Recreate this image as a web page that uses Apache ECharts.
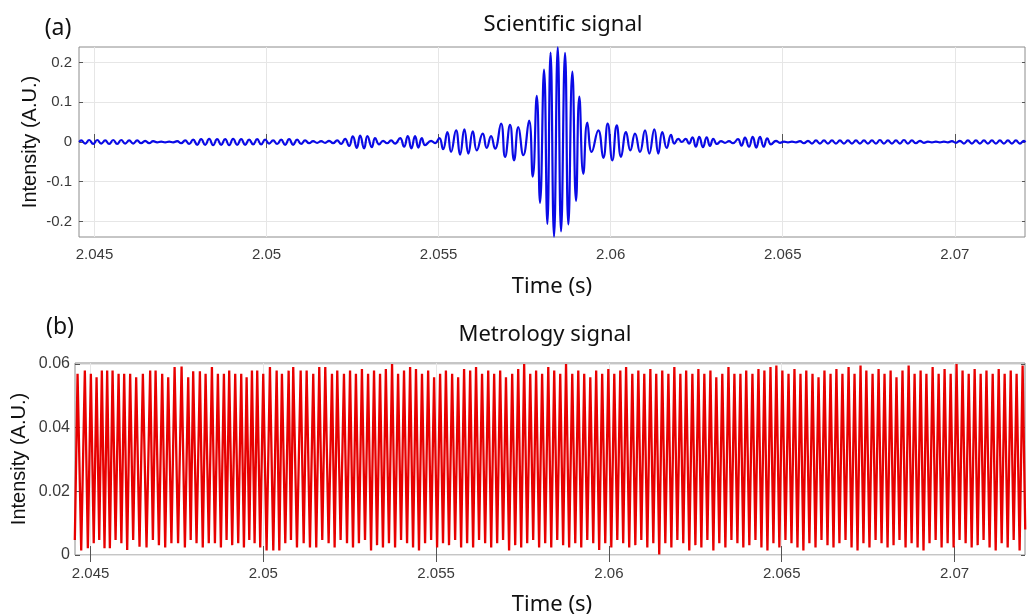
<!DOCTYPE html>
<html><head><meta charset="utf-8">
<script src="https://cdn.jsdelivr.net/npm/echarts@6/dist/echarts.min.js"></script>
<style>html,body{margin:0;padding:0;background:#fff}#c{width:1027px;height:615px}</style>
</head><body><div id="c"></div>
<script>
// ---------- data ----------
const xTicks = [2.045, 2.05, 2.055, 2.06, 2.065, 2.07];
const sciYTicks = [-0.2, -0.1, 0, 0.1, 0.2];
const metroYTicks = [0, 0.02, 0.04, 0.06];

// Scientific signal: times (s) of the local extremes and their values (A.U.)
const sciTime = [
2.044555,2.044614,2.044730,2.044846,2.044963,2.045079,2.045195,2.045311,2.045427,2.045544,2.045660,2.045776,2.045892,2.046008,2.046125,2.046241,2.046357,2.046473,2.046589,2.046706,2.046822,
2.046938,2.047054,2.047170,2.047287,2.047403,2.047519,
2.047635,2.047751,2.047867,2.047984,2.048100,2.048216,2.048332,2.048448,2.048565,2.048681,2.048797,2.048913,2.049029,2.049146,2.049262,2.049378,2.049494,2.049610,2.049727,2.049843,2.049959,2.050075,
2.050191,2.050308,2.050424,2.050540,2.050656,2.050772,2.050889,2.051005,2.051121,2.051237,
2.051353,2.051470,2.051586,2.051702,2.051818,2.051934,2.052051,2.052167,
2.052283,2.052399,2.052507,2.052623,2.052719,2.052835,2.052931,2.053059,2.053154,2.053271,
2.053387,2.053503,2.053619,2.053736,
2.053881,2.053997,2.054104,2.054209,2.054316,2.054412,2.054511,2.054607,
2.054781,2.054897,
2.055022,2.055130,2.055255,2.055362,2.055507,2.055624,2.055749,2.055865,2.055993,2.056109,
2.056283,2.056399,2.056524,2.056640,2.056815,2.056931,2.057076,2.057192,2.057317,2.057462,
2.057628,2.057736,2.057852,2.057948,2.058064,2.058160,2.058253,2.058354,2.058462,2.058558,
2.058674,2.058770,2.058886,2.058993,2.059089,2.059205,2.059322,2.059449,2.059641,2.059786,
2.059914,2.060048,2.060176,2.060301,2.060446,2.060571,2.060707,2.060853,2.060998,2.061123,
2.061268,2.061384,2.061500,2.061628,2.061753,2.061849,2.061965,2.062064,2.062180,2.062276,
2.062378,2.062474,2.062575,2.062683,2.062790,2.062886,2.062982,2.063089,2.063206,2.063322,2.063438,2.063554,2.063699,2.063801,2.063903,2.064019,2.064127,2.064231,2.064339,2.064446,2.064551,2.064658,
2.064803,2.064919,2.065036,2.065152,2.065268,2.065384,2.065500,2.065617,2.065733,2.065849,
2.065965,2.066081,2.066198,2.066314,2.066430,2.066546,2.066662,2.066779,2.066895,2.067011,
2.067127,2.067243,2.067360,2.067476,2.067592,2.067708,2.067824,2.067941,2.068057,2.068173,
2.068289,2.068405,2.068522,2.068638,2.068754,2.068870,2.068986,2.069103,2.069219,2.069335,
2.069451,2.069567,2.069684,2.069800,2.069916,2.070032,2.070148,2.070265,2.070381,2.070497,
2.070613,2.070729,2.070846,2.070962,2.071078,2.071194,2.071310,2.071427,2.071543,2.071659,
2.071775,2.071891,2.072008,2.072047
];
const sciValue = [
0,.004,-.004,.005,-.005,.005,-.004,.004,-.005,.005,-.005,.005,-.004,.004,-.004,.004,-.003,.003,-.003,.002,-.001,
.001,-.001,.001,-.001,.002,-.003,
.004,-.005,.006,-.007,.007,-.007,.008,-.008,.007,-.007,.007,-.008,.008,-.007,.007,-.007,.006,-.006,.007,-.006,.006,-.004,
.004,-.005,.006,-.007,.007,-.007,.006,-.005,.004,-.003,
.002,-.002,.002,-.002,.003,-.003,.004,-.005,
.008,-.010,.014,-.015,.016,-.016,.015,-.013,.010,-.006,
.003,-.003,.004,-.004,
.010,-.012,.015,-.016,.015,-.014,.010,-.008,
.003,-.003,
.010,-.018,.025,-.025,.029,-.032,.032,-.029,.027,-.021,
.021,-.015,.015,-.017,.046,-.0375,.043,-.046,.0375,-.033,
.054,-.087,.116,-.153,.182,-.206,.225,-.238,.238,-.225,
.224,-.2075,.177,-.148,.114,-.080,.049,-.025,.029,-.040,
.046,-.046,.042,-.0375,.025,-.021,.021,-.025,.029,-.029,
.032,-.029,.025,-.015,.018,-.004,.008,.000,.008,-.004,
.012,-.012,.013,-.013,.012,-.010,.008,-.005,.002,-.002,.002,-.003,.007,-.009,.011,-.012,.013,-.014,.013,-.012,.009,-.006,
.003,-.002,.001,-.001,.001,-.001,.002,-.003,.003,-.004,
.004,-.004,.004,-.004,.004,-.004,.004,-.004,.004,-.004,
.004,-.004,.004,-.004,.004,-.004,.005,-.004,.004,-.004,
.004,-.004,.005,-.004,.004,-.003,.003,-.002,.001,-.001,
.001,-.001,.001,-.001,.002,-.002,.003,-.004,.004,-.004,
.004,-.004,.004,-.004,.004,-.004,.004,-.004,.004,-.004,
.004,-.004,.003,-.001
];

// Metrology signal: times (s) of peaks / troughs and their values (A.U.)
const metroTime = [
2.044545,
2.044624,2.044730,2.044835,2.044922,2.045009,2.045092,2.045174,2.045251,2.045327,2.045404,
2.045481,2.045559,2.045637,2.045724,2.045811,2.045892,2.045973,2.046060,2.046146,2.046233,
2.046320,2.046417,2.046514,2.046620,2.046725,2.046804,2.046882,2.046978,2.047073,2.047160,
2.047247,2.047340,2.047432,2.047533,2.047634,2.047730,2.047826,2.047898,2.047970,2.048067,
2.048164,2.048247,2.048329,2.048421,2.048512,2.048599,2.048685,2.048772,2.048859,2.048936,
2.049012,2.049099,2.049186,2.049273,2.049360,2.049438,2.049516,2.049593,2.049670,2.049747,
2.049823,2.049910,2.049997,2.050094,2.050191,2.050288,2.050385,2.050462,2.050538,2.050635,
2.050732,2.050799,2.050865,2.050973,2.051080,2.051167,2.051253,2.051349,2.051444,2.051531,
2.051618,2.051705,2.051792,2.051889,2.051986,2.052063,2.052139,2.052236,2.052333,2.052421,
2.052509,2.052594,2.052679,2.052766,2.052853,2.052942,2.053031,2.053117,2.053203,2.053290,
2.053377,2.053461,2.053545,2.053635,2.053725,2.053812,2.053899,2.053985,2.054071,2.054159,
2.054247,2.054332,2.054417,2.054504,2.054591,2.054680,2.054769,2.054855,2.054941,2.055028,
2.055115,2.055199,2.055283,2.055373,2.055463,2.055550,2.055637,2.055723,2.055809,2.055897,
2.055985,2.056070,2.056155,2.056242,2.056329,2.056418,2.056507,2.056593,2.056679,2.056766,
2.056853,2.056937,2.057021,2.057111,2.057201,2.057288,2.057375,2.057461,2.057547,2.057635,
2.057723,2.057808,2.057893,2.057980,2.058067,2.058156,2.058245,2.058331,2.058417,2.058504,
2.058591,2.058675,2.058759,2.058849,2.058939,2.059026,2.059113,2.059199,2.059285,2.059373,
2.059461,2.059546,2.059631,2.059718,2.059805,2.059894,2.059983,2.060069,2.060155,2.060242,
2.060329,2.060413,2.060497,2.060587,2.060677,2.060764,2.060851,2.060937,2.061023,2.061111,
2.061199,2.061284,2.061369,2.061456,2.061543,2.061632,2.061721,2.061807,2.061893,2.061980,
2.062067,2.062151,2.062235,2.062325,2.062415,2.062502,2.062589,2.062675,2.062761,2.062849,
2.062937,2.063022,2.063107,2.063194,2.063281,2.063370,2.063459,2.063545,2.063631,2.063718,
2.063805,2.063889,2.063973,2.064063,2.064153,2.064240,2.064327,2.064413,2.064499,2.064587,
2.064675,2.064760,2.064845,2.064932,2.065019,2.065108,2.065197,2.065283,2.065369,2.065456,
2.065543,2.065627,2.065711,2.065801,2.065891,2.065978,2.066065,2.066151,2.066237,2.066325,
2.066413,2.066498,2.066583,2.066670,2.066757,2.066846,2.066935,2.067021,2.067107,2.067194,
2.067281,2.067365,2.067449,2.067539,2.067629,2.067716,2.067803,2.067889,2.067975,2.068063,
2.068151,2.068236,2.068321,2.068408,2.068495,2.068584,2.068673,2.068759,2.068845,2.068932,
2.069019,2.069103,2.069187,2.069277,2.069367,2.069454,2.069541,2.069627,2.069713,2.069801,
2.069889,2.069974,2.070059,2.070146,2.070233,2.070322,2.070411,2.070497,2.070583,2.070670,
2.070757,2.070841,2.070925,2.071015,2.071105,2.071192,2.071279,2.071365,2.071451,2.071539,
2.071627,2.071712,2.071797,2.071884,2.071971,2.072047
];
const metroValue = [
.0047,
.0569,.0014,.0579,.0021,.0569,.0037,.0558,.0047,.0579,.0021,
.0579,.0021,.0579,.0047,.0569,.0037,.0569,.0016,.0569,.0047,
.0558,.0026,.0569,.0024,.0579,.0047,.0579,.0031,.0569,.0024,
.0558,.0037,.0590,.0037,.0592,.0024,.0558,.0047,.0577,.0037,
.0577,.0024,.0569,.0037,.0590,.0037,.0569,.0024,.0569,.0047,
.0579,.0031,.0569,.0037,.0569,.0024,.0558,.0047,.0579,.0037,
.0579,.0024,.0569,.0014,.0590,.0014,.0579,.0014,.0569,.0037,
.0579,.0047,.0590,.0024,.0579,.0037,.0579,.0024,.0569,.0024,
.0590,.0047,.0590,.0037,.0569,.0024,.0579,.0047,.0569,.0037,
.0579,.0024,.0569,.0037,.0584,.0047,.0569,.0014,.0579,.0031,
.0569,.0024,.0584,.0037,.0600,.0024,.0569,.0047,.0579,.0037,
.0590,.0024,.0584,.0014,.0569,.0037,.0579,.0047,.0558,.0024,
.0569,.0037,.0579,.0031,.0569,.0047,.0558,.0024,.0584,.0037,
.0579,.0024,.0590,.0047,.0569,.0037,.0579,.0024,.0569,.0037,
.0579,.0047,.0558,.0014,.0569,.0031,.0584,.0024,.0600,.0037,
.0569,.0047,.0579,.0024,.0569,.0037,.0590,.0024,.0579,.0047,
.0569,.0031,.0600,.0024,.0569,.0037,.0579,.0024,.0569,.0047,
.0558,.0037,.0579,.0016,.0569,.0037,.0584,.0024,.0569,.0047,
.0579,.0037,.0590,.0024,.0569,.0031,.0579,.0047,.0569,.0024,
.0584,.0037,.0569,.0002,.0579,.0037,.0569,.0024,.0590,.0047,
.0569,.0037,.0579,.0014,.0569,.0031,.0584,.0024,.0569,.0047,
.0579,.0014,.0558,.0037,.0569,.0024,.0590,.0047,.0569,.0037,
.0569,.0024,.0579,.0031,.0569,.0047,.0584,.0024,.0579,.0014,
.0590,.0037,.0595,.0024,.0579,.0047,.0569,.0037,.0584,.0024,
.0569,.0014,.0579,.0037,.0569,.0024,.0558,.0047,.0579,.0031,
.0569,.0024,.0584,.0037,.0569,.0047,.0590,.0024,.0569,.0014,
.0595,.0037,.0579,.0024,.0569,.0047,.0584,.0037,.0569,.0024,
.0579,.0031,.0558,.0047,.0579,.0024,.0595,.0037,.0569,.0024,
.0579,.0014,.0569,.0037,.0590,.0047,.0569,.0024,.0584,.0037,
.0569,.0024,.0600,.0047,.0579,.0037,.0569,.0024,.0584,.0031,
.0569,.0047,.0579,.0024,.0569,.0014,.0584,.0037,.0569,.0024,
.0579,.0047,.0569,.0014,.0595,.0080
];

// ---------- chart ----------
const tMin = 2.04455, tMax = 2.07204;
const sciData = sciTime.map((t, i) => [t, sciValue[i]]);
const metroData = metroTime.map((t, i) => [t, metroValue[i]]);

const tickFont = { fontFamily: '"Liberation Sans", Arial, sans-serif', fontSize: 15, color: '#3a3a3a' };
const gridLine = { show: true, lineStyle: { color: '#e6e6e6', width: 1 } };
const tickStyle = { color: '#555', width: 1 };

function xAxes(gi, tickLen, margin) {
  return [
    { type: 'value', gridIndex: gi, min: tMin, max: tMax, position: 'bottom',
      axisLine: { show: false },
      axisTick: { show: true, inside: true, length: tickLen, customValues: xTicks, lineStyle: tickStyle },
      axisLabel: Object.assign({ show: true, customValues: xTicks, margin: margin, formatter: v => String(v) }, tickFont),
      splitLine: gridLine },
    { type: 'value', gridIndex: gi, min: tMin, max: tMax, position: 'top',
      axisLine: { show: false },
      axisTick: { show: true, inside: true, length: tickLen - 2, customValues: xTicks, lineStyle: tickStyle },
      axisLabel: { show: false }, splitLine: { show: false } }
  ];
}
function yAxes(gi, lo, hi, ticks, tickLen, margin, fs) {
  return [
    { type: 'value', gridIndex: gi, min: lo, max: hi, position: 'left',
      axisLine: { show: false },
      axisTick: { show: true, inside: true, length: tickLen, customValues: ticks, lineStyle: tickStyle },
      axisLabel: Object.assign({ show: true, customValues: ticks, margin: margin, formatter: v => String(v) }, tickFont, { fontSize: fs }),
      splitLine: gridLine },
    { type: 'value', gridIndex: gi, min: lo, max: hi, position: 'right',
      axisLine: { show: false },
      axisTick: { show: true, inside: true, length: tickLen - 1, customValues: ticks, lineStyle: tickStyle },
      axisLabel: { show: false }, splitLine: { show: false } }
  ];
}

const titleFont = '"Noto Sans", "Open Sans", sans-serif';
const labelFont = '"Liberation Sans", Arial, sans-serif';
function txt(text, x, y, size, family, rot) {
  return { type: 'text', x: x, y: y, rotation: rot || 0, silent: true, z: 100,
    style: { text: text, fill: '#111', font: size + 'px ' + family, align: 'center', verticalAlign: 'middle' } };
}

const option = {
  animation: false,
  backgroundColor: '#fff',
  grid: [
    { left: 79, top: 47, width: 946, height: 190, show: true, borderColor: '#8c8c8c', borderWidth: 1, backgroundColor: '#fff' },
    { left: 75, top: 363, width: 950, height: 192, show: true, borderColor: '#8c8c8c', borderWidth: 1, backgroundColor: '#fff' }
  ],
  xAxis: [].concat(xAxes(0, 8, 10), xAxes(1, 9, 11)),
  yAxis: [].concat(yAxes(0, -0.239, 0.239, sciYTicks, 4, 7, 15), yAxes(1, 0, 0.0603, metroYTicks, 5, 5, 16)),
  series: [
    { type: 'line', name: 'Scientific signal', xAxisIndex: 0, yAxisIndex: 0, data: sciData,
      showSymbol: false, symbol: 'none', smooth: 0.5, clip: true, silent: true,
      lineStyle: { color: '#0a0ae6', width: 2.2 } },
    { type: 'line', name: 'Metrology signal', xAxisIndex: 2, yAxisIndex: 2, data: metroData,
      showSymbol: false, symbol: 'none', smooth: false, clip: true, silent: true,
      lineStyle: { color: '#e80000', width: 2.3 } }
  ],
  graphic: [
    txt('(a)', 58, 28, 23, titleFont),
    txt('Scientific signal', 563, 25, 22, titleFont),
    txt('Time (s)', 552, 287, 22, titleFont),
    txt('Intensity (A.U.)', 30, 142, 20, labelFont, Math.PI / 2),
    txt('(b)', 60, 327, 23, titleFont),
    txt('Metrology signal', 545, 335, 22, titleFont),
    txt('Time (s)', 552, 605, 22, titleFont),
    txt('Intensity (A.U.)', 19, 459, 20, labelFont, Math.PI / 2)
  ]
};

const chart = echarts.init(document.getElementById('c'), null, { renderer: 'canvas' });
chart.setOption(option);
</script>
</body></html>
